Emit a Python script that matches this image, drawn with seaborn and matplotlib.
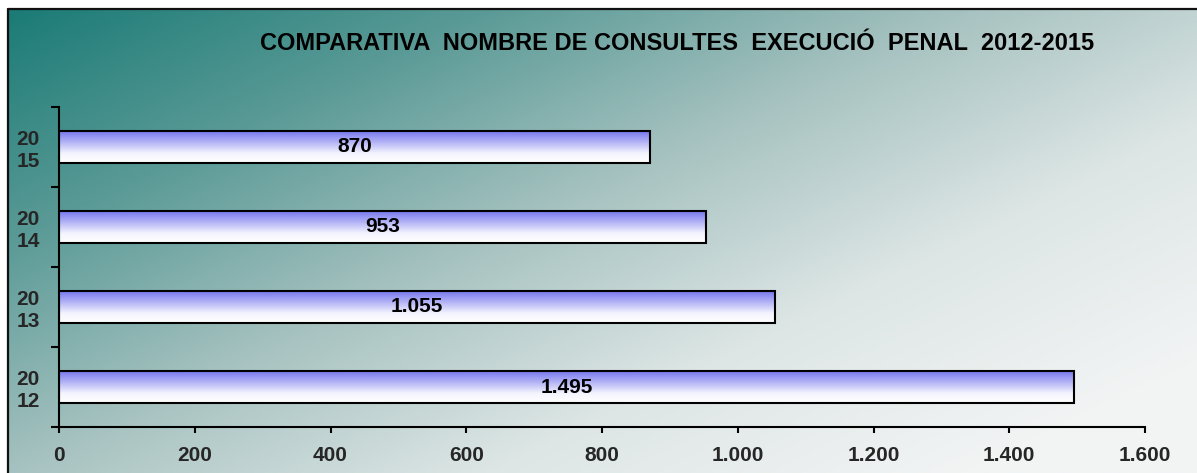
import numpy as np
import pandas as pd
import matplotlib
matplotlib.use('Agg')
import matplotlib.pyplot as plt
import seaborn as sns
from matplotlib.colors import LinearSegmentedColormap
from matplotlib.lines import Line2D

# --- dades ---
anys = ['2015', '2014', '2013', '2012']
consultes = [870, 953, 1055, 1495]
etiquetes_anys = ['20\n15', '20\n14', '20\n13', '20\n12']
xticks = [0, 200, 400, 600, 800, 1000, 1200, 1400, 1600]

titol = 'COMPARATIVA  NOMBRE DE CONSULTES  EXECUCIÓ  PENAL  2012-2015'


def punt_milers(v):
    return f'{int(v):,}'.replace(',', '.')


sns.set_theme(style='white')
plt.rcParams['font.family'] = ['Liberation Sans', 'DejaVu Sans']
plt.rcParams['font.weight'] = 'bold'

W, H = 1197, 473
fig = plt.figure(figsize=(W / 100, H / 100), dpi=100, facecolor='white')

# --- fons degradat (diagonal, verd fosc -> gris clar) ---
bg = fig.add_axes([0, 0, 1, 1], zorder=-1)
bg.set_axis_off()
bx0, by0 = 8 / W, 1 - 9 / H
gx = np.linspace(0, 1, 400)
gy = np.linspace(0, 1, 200)
XX, YY = np.meshgrid(gx, gy)
t = np.clip(0.62 * XX + 0.5 * YY, 0, 1)
fons_cmap = LinearSegmentedColormap.from_list(
    'fons', ['#1b7b76', '#5a9a96', '#a6c2c0', '#dde6e5', '#f2f4f4'])
bg.imshow(t, cmap=fons_cmap, vmin=0, vmax=1, aspect='auto',
          extent=[bx0, 1, 0, by0], origin='upper')
bg.set_xlim(0, 1)
bg.set_ylim(0, 1)
bg.add_line(Line2D([bx0, bx0], [0, by0], color='#111111', lw=1.6))
bg.add_line(Line2D([bx0, 1], [by0, by0], color='#111111', lw=1.6))

# --- gràfic de barres ---
ax = fig.add_axes([59 / W, 1 - 427 / H, (1145 - 59) / W, (427 - 107) / H])
ax.set_facecolor('none')
df = pd.DataFrame({'any': anys, 'consultes': consultes})
sns.barplot(data=df, x='consultes', y='any', order=anys, orient='h',
            width=0.39, ax=ax, color='white', edgecolor='black', linewidth=1.5)

barra_cmap = LinearSegmentedColormap.from_list(
    'barra', [(0, '#7878ee'), (0.35, '#b4b4f6'), (0.7, '#f4f4fe'), (1, '#ffffff')])
grad = np.linspace(0, 1, 100).reshape(-1, 1)
for p, v in zip(ax.patches, consultes):
    x0, y0, w, h = p.get_x(), p.get_y(), p.get_width(), p.get_height()
    p.set_facecolor('none')
    p.set_zorder(3)
    ax.imshow(grad, cmap=barra_cmap, aspect='auto', zorder=2,
              extent=[x0, x0 + w, y0 + h, y0], origin='upper')
    ax.text(x0 + w / 2, y0 + h / 2, punt_milers(v), ha='center', va='center',
            fontsize=15, fontweight='bold', color='black', zorder=4)

ax.set_xlim(0, 1600)
ax.set_ylim(3.5, -0.5)
ax.set_xticks(xticks)
ax.set_xticklabels([punt_milers(v) for v in xticks], fontsize=15, fontweight='bold')
ax.set_yticks(range(len(anys)))
ax.set_yticklabels(etiquetes_anys, fontsize=15, fontweight='bold',
                   linespacing=1.2, multialignment='center')
ax.set_yticks([-0.5, 0.5, 1.5, 2.5, 3.5], minor=True)
ax.tick_params(axis='y', which='major', length=0, pad=14)
ax.tick_params(axis='y', which='minor', length=6, width=1.5, direction='out', color='black', left=True)
ax.tick_params(axis='x', which='major', length=4.5, width=1.5, direction='out', color='black', pad=9, bottom=True)
ax.set_xlabel('')
ax.set_ylabel('')
for s in ['top', 'right']:
    ax.spines[s].set_visible(False)
for s in ['left', 'bottom']:
    ax.spines[s].set_color('black')
    ax.spines[s].set_linewidth(1.5)

fig.text(677 / W, 1 - 44 / H, titol, ha='center', va='center',
         fontsize=17, fontweight='bold', color='black')

fig.savefig('out.png', dpi=100)
